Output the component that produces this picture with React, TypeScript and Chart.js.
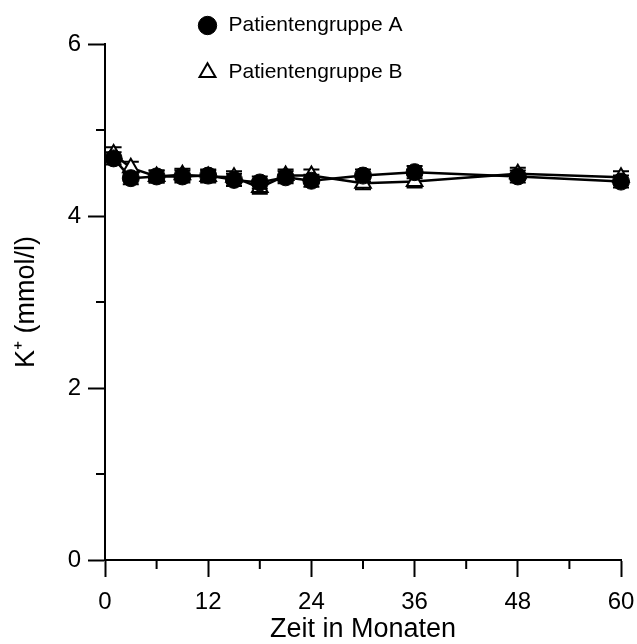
import React, { useEffect, useRef } from 'react';
import { Chart, registerables } from 'chart.js';

Chart.register(...registerables);

const months = [1, 3, 6, 9, 12, 15, 18, 21, 24, 30, 36, 48, 60];
const groupA = [4.67, 4.44, 4.46, 4.46, 4.47, 4.42, 4.39, 4.45, 4.41, 4.47, 4.51, 4.46, 4.40];
const groupB = [4.72, 4.56, 4.46, 4.48, 4.46, 4.45, 4.33, 4.47, 4.47, 4.38, 4.40, 4.49, 4.45];
const errA = [0.07, 0.07, 0.07, 0.07, 0.07, 0.07, 0.07, 0.07, 0.07, 0.07, 0.07, 0.07, 0.07];
const errB = [0.08, 0.07, 0.07, 0.07, 0.07, 0.07, 0.07, 0.07, 0.07, 0.07, 0.07, 0.07, 0.07];
const xMinorTicks = [6, 18, 30, 42, 54];
const yMinorTicks = [1, 3, 5];
const seriesLabels = ['Patientengruppe A', 'Patientengruppe B'];
const xTitle = 'Zeit in Monaten';
const yTitle = 'K\u207A (mmol/l)';

const FONT = "'Liberation Sans', Arial, sans-serif";

const errorBarPlugin = {
  id: 'errorBars',
  beforeDatasetsDraw(chart: any) {
    const ctx = chart.ctx;
    const ys = chart.scales.y;
    const errs = [errA, errB];
    ctx.save();
    ctx.strokeStyle = '#000';
    ctx.lineWidth = 2;
    chart.data.datasets.forEach((ds: any, di: number) => {
      const meta = chart.getDatasetMeta(di);
      meta.data.forEach((pt: any, i: number) => {
        const v = ds.data[i].y;
        const e = errs[di][i];
        const top = ys.getPixelForValue(v + e);
        const bot = ys.getPixelForValue(v - e);
        const x = pt.x;
        ctx.beginPath();
        ctx.moveTo(x, top);
        ctx.lineTo(x, bot);
        ctx.moveTo(x - 8, top);
        ctx.lineTo(x + 8, top);
        ctx.moveTo(x - 8, bot);
        ctx.lineTo(x + 8, bot);
        ctx.stroke();
      });
    });
    ctx.restore();
  },
};

const minorTickPlugin = {
  id: 'minorTicks',
  afterDraw(chart: any) {
    const ctx = chart.ctx;
    const xs = chart.scales.x;
    const ys = chart.scales.y;
    const area = chart.chartArea;
    ctx.save();
    ctx.strokeStyle = '#000';
    ctx.lineWidth = 2;
    ctx.beginPath();
    xMinorTicks.forEach((v) => {
      const px = xs.getPixelForValue(v);
      ctx.moveTo(px, area.bottom);
      ctx.lineTo(px, area.bottom + 9);
    });
    yMinorTicks.forEach((v) => {
      const py = ys.getPixelForValue(v);
      ctx.moveTo(area.left, py);
      ctx.lineTo(area.left - 9, py);
    });
    ctx.stroke();
    ctx.restore();
  },
};

const legendPlacePlugin = {
  id: 'legendPlace',
  afterLayout(chart: any) {
    const lg = chart.legend;
    if (!lg) return;
    lg.left = 171;
    lg.right = 637;
    lg.top = -11;
    lg.bottom = 644;
    lg.width = lg.right - lg.left;
    lg.height = lg.bottom - lg.top;
  },
};

export default function App() {
  const ref = useRef<HTMLCanvasElement | null>(null);

  useEffect(() => {
    if (!ref.current) return;
    const chart = new Chart(ref.current, {
      type: 'scatter',
      data: {
        datasets: [
          {
            label: seriesLabels[0],
            data: months.map((m, i) => ({ x: m, y: groupA[i] })),
            showLine: true,
            borderColor: '#000',
            backgroundColor: '#000',
            borderWidth: 2.5,
            pointStyle: 'circle',
            pointRadius: 8.5,
            pointBackgroundColor: '#000',
            pointBorderColor: '#000',
            pointBorderWidth: 1,
            clip: false,
          },
          {
            label: seriesLabels[1],
            data: months.map((m, i) => ({ x: m, y: groupB[i] })),
            showLine: true,
            borderColor: '#000',
            backgroundColor: '#fff',
            borderWidth: 2.5,
            pointStyle: 'triangle',
            pointRadius: 9,
            pointBackgroundColor: '#fff',
            pointBorderColor: '#000',
            pointBorderWidth: 2,
            clip: false,
          },
        ],
      },
      options: {
        responsive: false,
        animation: false,
        layout: { padding: { top: 44, right: 16, left: 0, bottom: 0 } },
        plugins: {
          tooltip: { enabled: false },
          legend: {
            display: true,
            position: 'chartArea',
            align: 'start',
            labels: {
              usePointStyle: true,
              boxHeight: 13,
              padding: 26,
              color: '#000',
              font: { family: FONT, size: 21 },
            },
          },
        },
        scales: {
          x: {
            type: 'linear',
            min: 0,
            max: 60,
            afterFit: (s: any) => {
              s.height = 84;
              s.paddingLeft = 0;
              s.paddingRight = 0;
            },
            ticks: {
              stepSize: 12,
              color: '#000',
              padding: 11,
              font: { family: FONT, size: 24 },
            },
            grid: {
              drawOnChartArea: false,
              drawTicks: true,
              tickLength: 17,
              tickWidth: 2,
              tickColor: '#000',
            },
            border: { display: true, color: '#000', width: 2 },
            title: {
              display: true,
              text: xTitle,
              color: '#000',
              font: { family: FONT, size: 27 },
              padding: { top: 0, bottom: -2 },
            },
          },
          y: {
            type: 'linear',
            min: 0,
            max: 6,
            afterFit: (s: any) => {
              s.width = 105;
              s.paddingTop = 0;
              s.paddingBottom = 0;
            },
            ticks: {
              stepSize: 2,
              color: '#000',
              padding: 7,
              font: { family: FONT, size: 24 },
            },
            grid: {
              drawOnChartArea: false,
              drawTicks: true,
              tickLength: 17,
              tickWidth: 2,
              tickColor: '#000',
            },
            border: { display: true, color: '#000', width: 2 },
            title: {
              display: true,
              text: yTitle,
              color: '#000',
              font: { family: FONT, size: 27 },
              padding: { top: 10, bottom: 0 },
            },
          },
        },
      },
      plugins: [errorBarPlugin, minorTickPlugin, legendPlacePlugin],
    } as any);
    return () => chart.destroy();
  }, []);

  return (
    <div style={{ position: 'fixed', left: 0, top: 0, width: 637, height: 644, background: '#fff' }}>
      <canvas ref={ref} width={637} height={644} style={{ display: 'block' }} />
    </div>
  );
}
